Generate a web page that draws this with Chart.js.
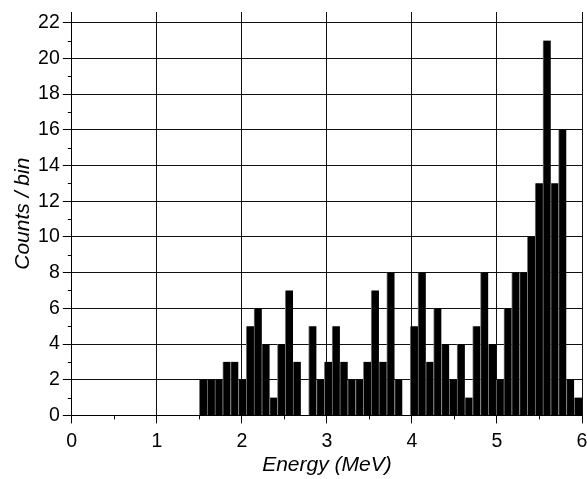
<!DOCTYPE html>
<html>
<head>
<meta charset="utf-8">
<script src="https://cdn.jsdelivr.net/npm/chart.js@4/dist/chart.umd.min.js"></script>
<style>
  html, body { margin: 0; padding: 0; background: #fff; }
  canvas { display: block; }
</style>
</head>
<body>
<canvas id="c" width="587" height="479"></canvas>
<script>
// Histogram definition: bins spanning 1.5 .. 6.0 MeV
const BIN_START = 1.5;
const BIN_END = 6.0;
const counts = [
  2, 2, 2, 3, 3, 2, 5, 6, 4, 1, 4, 7, 3,
  0,
  5, 2, 3, 5, 3, 2, 2, 3, 7, 3, 8, 2,
  0,
  5, 8, 3, 6, 4, 2, 4, 1, 5, 8,
  4, 2, 6, 8, 8, 10, 13, 21, 13, 16, 2, 1
];
const xTicks = [0, 1, 2, 3, 4, 5, 6];
const yTicks = [0, 2, 4, 6, 8, 10, 12, 14, 16, 18, 20, 22];
const xMinorTicks = [0.5, 1.5, 2.5, 3.5, 4.5, 5.5];
const yMinorTicks = [1, 3, 5, 7, 9, 11, 13, 15, 17, 19, 21];
const xTitle = 'Energy (MeV)';
const yTitle = 'Counts / bin';

const binWidth = (BIN_END - BIN_START) / counts.length;
const points = counts.map((c, i) => ({ x: BIN_START + binWidth * (i + 0.5), y: c }));

const FONT = '"Liberation Sans", Arial, sans-serif';

const minorTicks = {
  id: 'minorTicks',
  afterDraw(chart) {
    const ctx = chart.ctx;
    const xs = chart.scales.x, ys = chart.scales.y;
    const ax = chart.chartArea.left, ay = chart.chartArea.bottom;
    ctx.save();
    ctx.strokeStyle = '#000';
    ctx.lineWidth = 1;
    ctx.beginPath();
    yMinorTicks.forEach(v => {
      const py = Math.round(ys.getPixelForValue(v)) + 0.5;
      ctx.moveTo(ax - 4, py); ctx.lineTo(ax, py);
    });
    xMinorTicks.forEach(v => {
      const px = Math.round(xs.getPixelForValue(v)) + 0.5;
      ctx.moveTo(px, ay); ctx.lineTo(px, ay + 4);
    });
    ctx.stroke();
    ctx.restore();
  }
};

new Chart(document.getElementById('c'), {
  type: 'bar',
  data: {
    datasets: [{
      data: points,
      backgroundColor: '#000',
      borderColor: '#777',
      borderWidth: { left: 1, right: 0, top: 0, bottom: 0 },
      borderSkipped: false,
      barPercentage: 1.0,
      categoryPercentage: 1.0,
      grouped: false
    }]
  },
  options: {
    responsive: false,
    animation: false,
    layout: { padding: { left: 4, right: 5, top: 12, bottom: 0 } },
    plugins: { legend: { display: false }, tooltip: { enabled: false } },
    scales: {
      x: {
        type: 'linear',
        offset: false,
        min: xTicks[0],
        max: xTicks[xTicks.length - 1],
        afterBuildTicks: s => { s.ticks = xTicks.map(v => ({ value: v })); },
        afterFit: s => { s.paddingRight = 0; s.paddingLeft = 0; },
        ticks: { color: '#000', font: { family: FONT, size: 19.5, lineHeight: 1.0 }, padding: 8, maxRotation: 0 },
        grid: { offset: false, color: '#111', lineWidth: 1, tickLength: 8, tickColor: '#000' },
        border: { color: '#000', width: 1 },
        title: { display: true, text: xTitle, color: '#000',
                 font: { family: FONT, size: 21, style: 'italic', lineHeight: 1.1 },
                 padding: { top: -5, bottom: 2 } }
      },
      y: {
        type: 'linear',
        min: yTicks[0],
        max: 22.6,
        afterBuildTicks: s => { s.ticks = yTicks.map(v => ({ value: v })); },
        afterFit: s => { s.paddingTop = 0; s.paddingBottom = 0; },
        ticks: { color: '#000', font: { family: FONT, size: 19.5 }, padding: 3 },
        grid: { color: '#111', lineWidth: 1, tickLength: 9, tickColor: '#000' },
        border: { color: '#000', width: 1 },
        title: { display: true, text: yTitle, color: '#000',
                 font: { family: FONT, size: 21, style: 'italic', lineHeight: 1.1 },
                 padding: { top: 8, bottom: 0 } }
      }
    }
  },
  plugins: [minorTicks]
});
</script>
</body>
</html>
